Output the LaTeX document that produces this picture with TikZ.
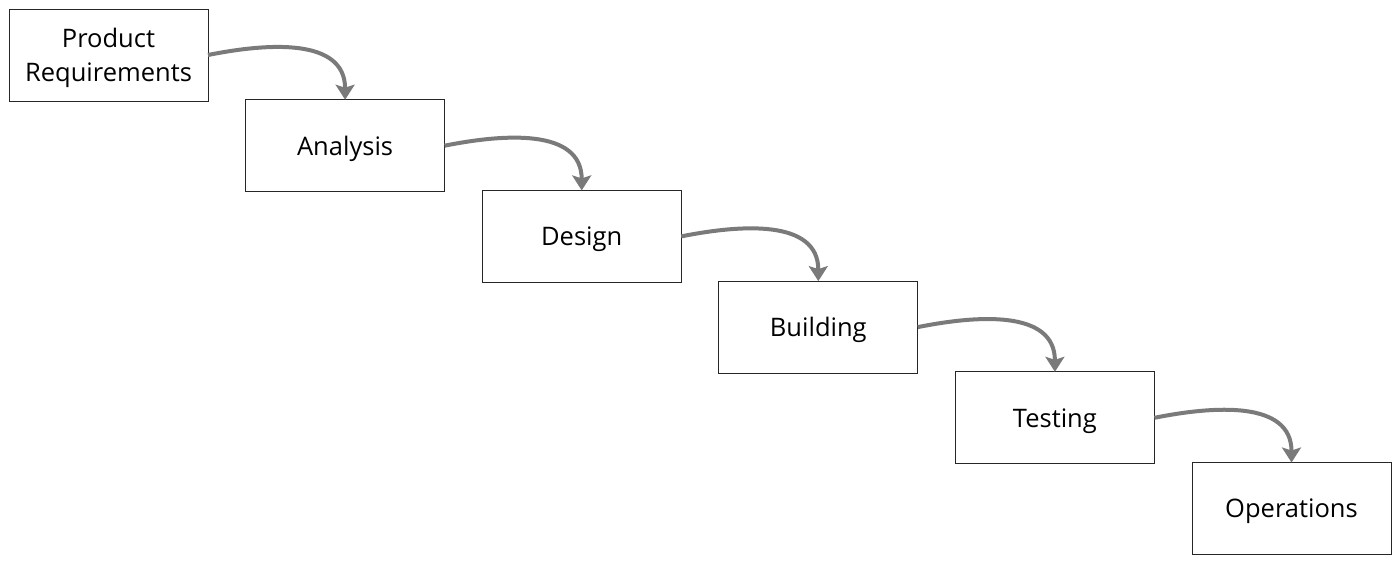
\documentclass[tikz,border=0pt]{standalone}
\usepackage{fontspec}
\setmainfont{Open Sans}
\usetikzlibrary{arrows.meta, positioning}

\begin{document}
\begin{tikzpicture}[
		x=1pt, y=-1pt,
		node distance=-1.3pt and 37.6pt,
		every node/.style={font=\fontsize{25.5}{34}\selectfont},
		stage/.style={rectangle, draw=black!85, line width=1pt, outer sep=0pt, minimum width=199pt, minimum height=92pt, inner sep=0pt, text depth=-2pt, align=center},
		flow/.style={-{Stealth[length=15pt, width=19pt, inset=3pt]}, line width=4pt, draw=black!52}
		]
		\useasboundingbox (0,0) rectangle (1400,565);
		
		% Stages
		\node[stage] (requirements) at (108.5,55) {Product\\Requirements};
		\node[stage, below right=of requirements.south east, anchor=north west] (analysis) {Analysis};
		\node[stage, below right=of analysis.south east, anchor=north west] (design) {Design};
		\node[stage, below right=of design.south east, anchor=north west] (building) {Building};
		\node[stage, below right=of building.south east, anchor=north west] (testing) {Testing};
		\node[stage, below right=of testing.south east, anchor=north west] (operations) {Operations};
		
		% Flow arrows
		\foreach \a/\b in {requirements/analysis, analysis/design, design/building, building/testing, testing/operations}
			\draw[flow] (\a.east) .. controls +(60,-12) and +(0,-62) .. (\b.north);
		
	\end{tikzpicture}
\end{document}
